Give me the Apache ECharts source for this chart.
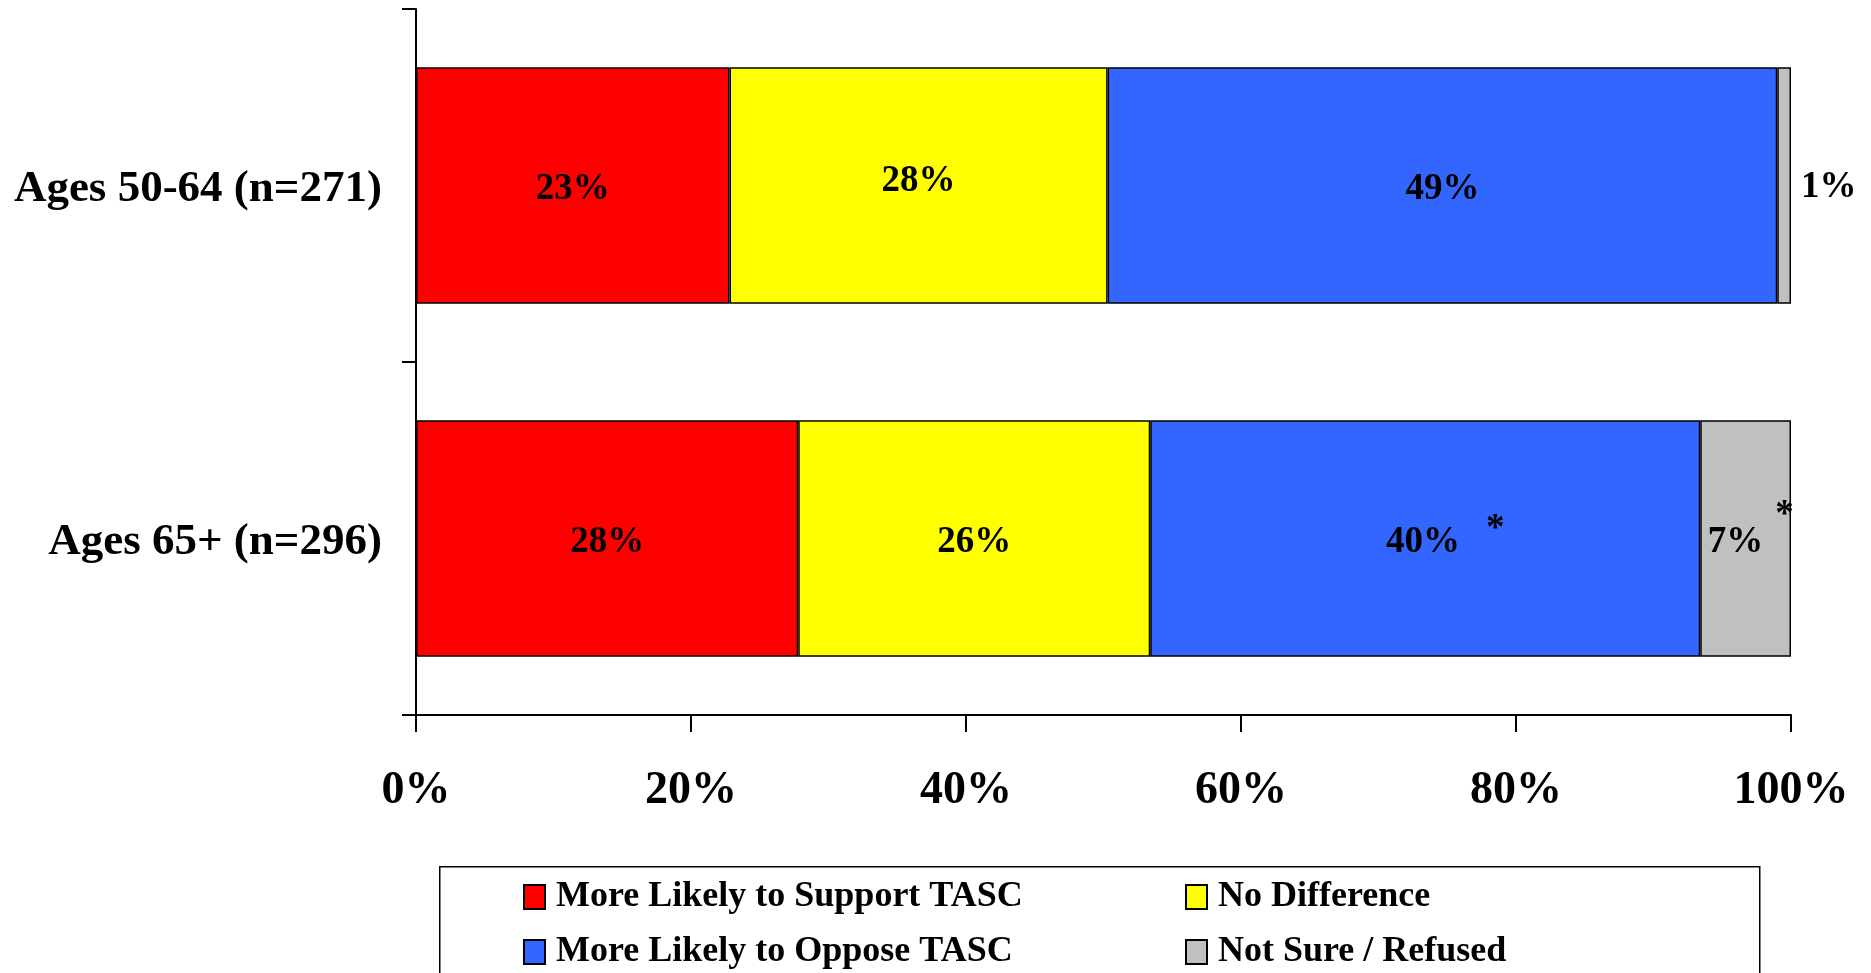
<!DOCTYPE html>
<html><head><meta charset="utf-8">
<script src="https://cdn.jsdelivr.net/npm/echarts@6/dist/echarts.min.js"></script>
<style>html,body{margin:0;padding:0;background:#fff}#c{width:1871px;height:973px}</style>
</head><body><div id="c"></div>
<script>
const categories = ['Ages 50-64 (n=271)', 'Ages 65+ (n=296)'];
const seriesNames = ['More Likely to Support TASC', 'No Difference', 'More Likely to Oppose TASC', 'Not Sure / Refused'];
const supportVals = [22.8, 27.8];
const noDiffVals = [27.5, 25.6];
const opposeVals = [48.7, 40.0];
const notSureVals = [1.0, 6.6];
const opposeStar = [false, true];
const notSureStar = [false, true];
const xTickLabels = ['0%', '20%', '40%', '60%', '80%', '100%'];
const colors = ['#FF0000', '#FFFF00', '#3366FF', '#C0C0C0'];

const FONT = "'Liberation Serif', 'Times New Roman', serif";
const chart = echarts.init(document.getElementById('c'), null, {renderer: 'canvas'});

const richBase = {
  v: {fontFamily: FONT, fontWeight: 'bold', fontSize: 37, color: '#000', lineHeight: 40},
};
function fmt(p) {
  return '{v|' + Math.round(p.value) + '%}' + (p.data && p.data.star ? '{s|*}' : '');
}
function makeData(vals, stars, extra) {
  return vals.map((v, i) => {
    const d = {value: v, star: stars ? stars[i] : false};
    const e = extra ? extra(i, d) : null;
    if (e) d.label = e;
    return d;
  });
}
function starRich(padLeft, padBottom) {
  return Object.assign({}, richBase, {
    s: {fontFamily: FONT, fontWeight: 'bold', fontSize: 37, color: '#000', lineHeight: 40, padding: [0, 0, padBottom, padLeft]}
  });
}
const baseLabel = {show: true, position: 'inside', formatter: fmt, rich: richBase, offset: [0, 4]};
const itemStyleFor = c => ({color: c, borderColor: '#000', borderWidth: 1.5});

const series = [
  {name: seriesNames[0], data: makeData(supportVals)},
  {name: seriesNames[1], data: makeData(noDiffVals, null, i => i === 0 ? {offset: [0, -4]} : null)},
  {name: seriesNames[2], data: makeData(opposeVals, opposeStar, (i, d) => d.star ? {rich: starRich(26, 26), offset: [20, 4]} : null)},
  {name: seriesNames[3], data: makeData(notSureVals, notSureStar, (i, d) => d.star ? {rich: starRich(12, 54), offset: [5, 4]} : {position: 'right', distance: 10, offset: [0, 2]})}
].map((s, k) => Object.assign({
  type: 'bar', stack: 'total', barWidth: '67%',
  itemStyle: itemStyleFor(colors[k]),
  label: baseLabel,
  emphasis: {disabled: true},
  animation: false
}, s));

const legendCommon = {
  orient: 'vertical', top: 877, itemWidth: 21, itemHeight: 24, itemGap: 15, padding: 0,
  icon: 'rect',
  textStyle: {fontFamily: FONT, fontWeight: 'bold', fontSize: 36, color: '#000', lineHeight: 40, padding: [0, 0, 0, 6]},
  selectedMode: false
};

chart.setOption({
  backgroundColor: '#fff',
  animation: false,
  grid: {left: 416, right: 80, top: 9, bottom: 258, containLabel: false},
  xAxis: {
    type: 'value', min: 0, max: 100, interval: 20,
    axisLine: {show: true, lineStyle: {color: '#000', width: 2}},
    axisTick: {show: true, length: 17, lineStyle: {color: '#000', width: 2}},
    splitLine: {show: false},
    axisLabel: {
      formatter: v => xTickLabels[Math.round(v / 20)],
      margin: 53, fontFamily: FONT, fontWeight: 'bold', fontSize: 46, color: '#000'
    }
  },
  yAxis: {
    type: 'category', data: categories, inverse: true,
    axisLine: {show: true, lineStyle: {color: '#000', width: 2}},
    axisTick: {show: true, length: 14, alignWithLabel: false, lineStyle: {color: '#000', width: 2}},
    axisLabel: {
      margin: 34, color: '#000',
      formatter: v => '{c|' + v + '}',
      rich: {c: {fontFamily: FONT, fontWeight: 'bold', fontSize: 45, color: '#000', lineHeight: 48, padding: [7, 0, 0, 0]}}
    }
  },
  legend: [
    Object.assign({left: 523, data: [seriesNames[0], seriesNames[2]]}, legendCommon),
    Object.assign({left: 1185, data: [seriesNames[1], seriesNames[3]]}, legendCommon)
  ],
  graphic: [{
    type: 'rect', left: 439, top: 866, z: -1, silent: true,
    shape: {width: 1320, height: 130},
    style: {fill: '#fff', stroke: '#000', lineWidth: 1.5}
  }],
  series: series
});
</script></body></html>
